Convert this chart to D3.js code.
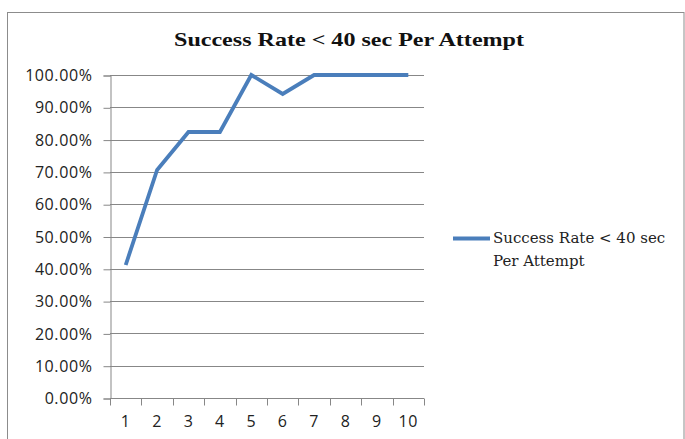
<!DOCTYPE html>
<html>
<head>
<meta charset="utf-8">
<script src="https://cdn.jsdelivr.net/npm/d3@7"></script>
<style>
  body { margin: 0; background: #fff; }
</style>
</head>
<body>
<div id="chart"></div>
<script>
// chart data
var attempts = [1, 2, 3, 4, 5, 6, 7, 8, 9, 10];
var successRate = [0.4118, 0.7059, 0.8235, 0.8235, 1.0, 0.9412, 1.0, 1.0, 1.0, 1.0];
var yTicks = [0, 0.1, 0.2, 0.3, 0.4, 0.5, 0.6, 0.7, 0.8, 0.9, 1.0];
var titleText = "Success Rate < 40 sec Per Attempt";
var legendLines = ["Success Rate < 40 sec", "Per Attempt"];

var width = 685,
    height = 439;

var plotLeft = 110,
    plotRight = 424,
    plotTop = 75,
    plotBottom = 398;

var svg = d3.select("#chart")
    .append("svg")
    .attr("width", width)
    .attr("height", height);

// outer chart border (runs off the right and bottom of the picture)
svg.append("rect")
    .attr("x", 7.5)
    .attr("y", 12.5)
    .attr("width", 676.5)
    .attr("height", 440)
    .attr("fill", "#fff")
    .attr("stroke", "#8c8c8c")
    .attr("stroke-width", 1);

// scales
var x = d3.scaleBand()
    .domain(attempts)
    .range([plotLeft, plotRight]);

var y = d3.scaleLinear()
    .domain([0, 1])
    .range([plotBottom, plotTop]);

// gridlines
svg.append("g")
    .selectAll("line")
    .data(yTicks.slice(1))
    .enter()
    .append("line")
    .attr("x1", plotLeft)
    .attr("x2", plotRight)
    .attr("y1", function (d) { return Math.round(y(d)) + 0.5; })
    .attr("y2", function (d) { return Math.round(y(d)) + 0.5; })
    .attr("stroke", "#878787")
    .attr("stroke-width", 1);

// y axis
var yAxis = svg.append("g")
    .attr("transform", "translate(" + (plotLeft + 0.5) + ",0.5)")
    .call(d3.axisLeft(y)
        .tickValues(yTicks)
        .tickSize(7)
        .tickPadding(11)
        .tickFormat(d3.format(".2%")));

// x axis, ticks on the band edges
var xAxis = svg.append("g")
    .attr("transform", "translate(0," + (plotBottom + 0.5) + ")")
    .call(d3.axisBottom(x)
        .tickSize(0)
        .tickPadding(17));

xAxis.append("g")
    .selectAll("line")
    .data(attempts.concat([null]))
    .enter()
    .append("line")
    .attr("x1", function (d, i) { return Math.round(plotLeft + i * x.bandwidth()) + 0.5; })
    .attr("x2", function (d, i) { return Math.round(plotLeft + i * x.bandwidth()) + 0.5; })
    .attr("y1", 0)
    .attr("y2", 7)
    .attr("stroke", "#878787");

svg.selectAll(".domain")
    .attr("stroke", "#878787");
svg.selectAll(".tick line")
    .attr("stroke", "#878787");
svg.selectAll(".tick text")
    .attr("fill", "#222")
    .style("font-family", "'Open Sans', sans-serif")
    .style("font-size", "16px")
    .style("letter-spacing", "0.6px");

xAxis.select(".domain")
    .attr("d", "M" + plotLeft + ",0H" + plotRight);

// the line
var line = d3.line()
    .x(function (d, i) { return x(attempts[i]) + x.bandwidth() / 2; })
    .y(function (d) { return y(d); });

svg.append("path")
    .datum(successRate)
    .attr("d", line)
    .attr("fill", "none")
    .attr("stroke", "#4a7ebb")
    .attr("stroke-width", 3.8)
    .attr("stroke-linejoin", "miter");

// title
svg.append("text")
    .attr("x", 349)
    .attr("y", 46)
    .attr("text-anchor", "middle")
    .attr("textLength", 350)
    .attr("lengthAdjust", "spacingAndGlyphs")
    .style("font-family", "'Liberation Serif', 'DejaVu Serif', serif")
    .style("font-weight", "bold")
    .style("font-size", "19px")
    .attr("fill", "#111")
    .text(titleText);

// legend
var legend = svg.append("g");

legend.append("line")
    .attr("x1", 453)
    .attr("x2", 490)
    .attr("y1", 238.5)
    .attr("y2", 238.5)
    .attr("stroke", "#4a7ebb")
    .attr("stroke-width", 3.8);

legend.selectAll("text")
    .data(legendLines)
    .enter()
    .append("text")
    .attr("x", 493)
    .attr("y", function (d, i) { return 243 + i * 23; })
    .style("font-family", "'DejaVu Serif', serif")
    .style("font-size", "15px")
    .attr("fill", "#222")
    .text(function (d) { return d; });
</script>
</body>
</html>
